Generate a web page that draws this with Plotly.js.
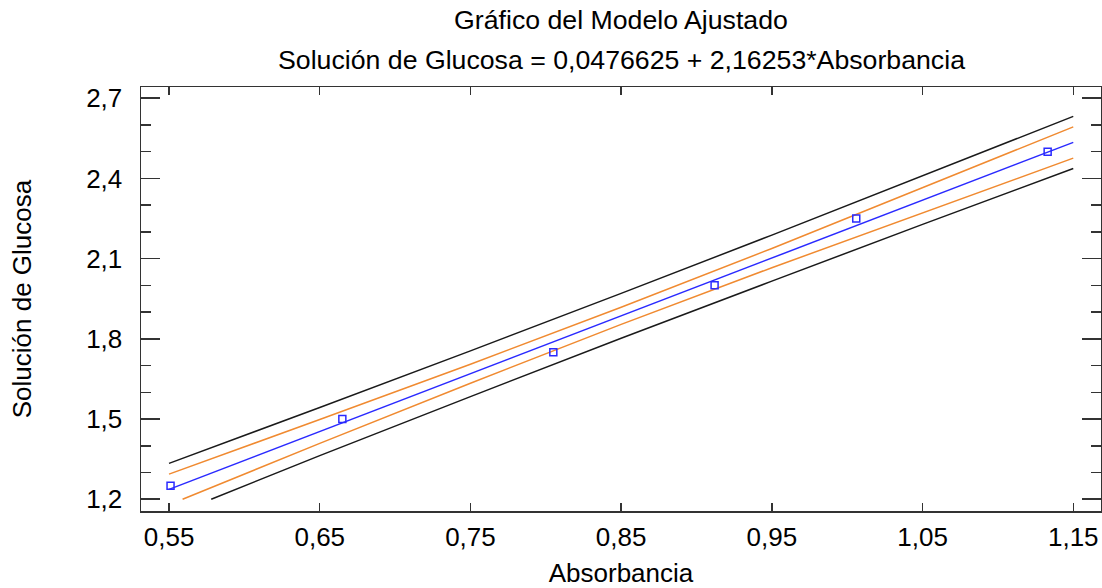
<!DOCTYPE html>
<html>
<head>
<meta charset="utf-8">
<script src="https://cdn.plot.ly/plotly-3.0.1.min.js"></script>
<style>html,body{margin:0;padding:0;background:#fff;}#chart{width:1102px;height:588px;}</style>
</head>
<body>
<div id="chart"></div>
<script>
// Observed points
var absorbancia = [0.551, 0.665, 0.805, 0.912, 1.006, 1.133];
var glucosa = [1.25, 1.50, 1.75, 2.00, 2.25, 2.50];

var fitX = [0.55, 0.65, 0.75, 0.85, 0.95, 1.05, 1.15];
var fitY = [1.237, 1.453, 1.670, 1.886, 2.102, 2.318, 2.535];

// Confidence limits (orange)
var confUpX = [0.55, 0.65, 0.75, 0.85, 0.95, 1.05, 1.15];
var confUpY = [1.294, 1.498, 1.705, 1.918, 2.138, 2.364, 2.593];
var confLoX = [0.559, 0.65, 0.75, 0.85, 0.95, 1.05, 1.15];
var confLoY = [1.200, 1.409, 1.634, 1.854, 2.066, 2.272, 2.476];

// Prediction limits (black)
var predUpX = [0.55, 0.65, 0.75, 0.85, 0.95, 1.05, 1.15];
var predUpY = [1.334, 1.543, 1.755, 1.970, 2.188, 2.409, 2.632];
var predLoX = [0.578, 0.65, 0.75, 0.85, 0.95, 1.05, 1.15];
var predLoY = [1.200, 1.363, 1.584, 1.802, 2.016, 2.228, 2.437];

var titleMain = "Gráfico del Modelo Ajustado";
var titleSub = "Solución de Glucosa = 0,0476625 + 2,16253*Absorbancia";
var xTitle = "Absorbancia";
var yTitle = "Solución de Glucosa";

var FONT = "Liberation Sans, Arial, sans-serif";
var FS = 26, FT = 26.7;
var BLACK = "#1a1a1a", ORANGE = "#f08a30", BLUE = "#2a2aff";

var traces = [
  {x: predUpX, y: predUpY, mode: "lines", line: {color: BLACK, width: 1.5}, hoverinfo: "skip"},
  {x: predLoX, y: predLoY, mode: "lines", line: {color: BLACK, width: 1.5}, hoverinfo: "skip"},
  {x: confUpX, y: confUpY, mode: "lines", line: {color: ORANGE, width: 1.5}, hoverinfo: "skip"},
  {x: confLoX, y: confLoY, mode: "lines", line: {color: ORANGE, width: 1.5}, hoverinfo: "skip"},
  {x: fitX, y: fitY, mode: "lines", line: {color: BLUE, width: 1.5}, hoverinfo: "skip"},
  {x: absorbancia, y: glucosa, mode: "markers",
   marker: {symbol: "square-open", size: 7, color: BLUE, line: {width: 1.5, color: BLUE}}}
];

var layout = {
  width: 1102, height: 588,
  margin: {l: 141, r: 1, t: 87, b: 77},
  paper_bgcolor: "#fff", plot_bgcolor: "#fff",
  showlegend: false,
  separators: ", ",
  font: {family: FONT, size: FS, color: "#000"},
  title: {text: titleMain, font: {family: FONT, size: FT, color: "#000"},
          x: 0.5635, xanchor: "center", xref: "container", y: 1 - 20/588, yanchor: "middle"},
  annotations: [
    {text: titleSub, xref: "paper", yref: "paper", x: 0.5, y: 1 + 27/424,
     xanchor: "center", yanchor: "middle", showarrow: false,
     font: {family: FONT, size: FT, color: "#000"}}
  ],
  xaxis: {
    range: [0.5314, 1.1684], tick0: 0.55, dtick: 0.1, tickformat: ".2f",
    ticks: "inside", ticklen: 8, tickwidth: 1.5, tickcolor: "#333",
    showline: true, linecolor: "#333", linewidth: 1.5, mirror: "ticks",
    showgrid: false, zeroline: false,
    ticklabelstandoff: 2,
    tickfont: {family: FONT, size: FS, color: "#000"},
    title: {text: xTitle, font: {family: FONT, size: FS, color: "#000"}, standoff: 15}
  },
  yaxis: {
    range: [1.156, 2.742], tick0: 1.2, dtick: 0.3, tickformat: ".1f",
    ticks: "inside", ticklen: 19, tickwidth: 1.5, tickcolor: "#333",
    minor: {dtick: 0.1, tick0: 1.2, ticks: "inside", ticklen: 10, tickwidth: 1.5, tickcolor: "#333", showgrid: false},
    showline: true, linecolor: "#333", linewidth: 1.5, mirror: "ticks",
    showgrid: false, zeroline: false,
    ticklabelstandoff: 12,
    tickfont: {family: FONT, size: FS, color: "#000"},
    title: {text: yTitle, font: {family: FONT, size: FS, color: "#000"}, standoff: 47}
  }
};

Plotly.newPlot("chart", traces, layout, {displayModeBar: false, staticPlot: true});
</script>
</body>
</html>
